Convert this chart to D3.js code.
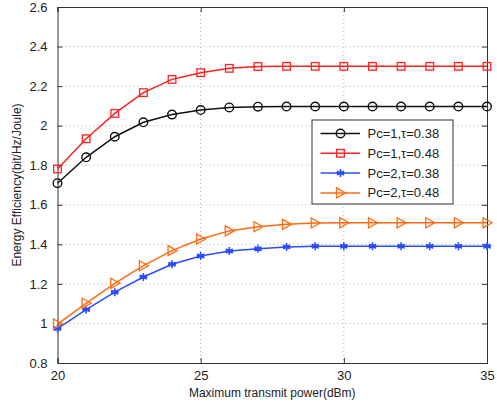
<!DOCTYPE html>
<html>
<head>
<meta charset="utf-8">
<script src="https://cdn.jsdelivr.net/npm/d3@7"></script>
<style>
  html, body { margin: 0; padding: 0; background: #fff; }
  svg { display: block; font-family: "Liberation Sans", Arial, sans-serif; }
</style>
</head>
<body>
<div id="chart"></div>
<script>
// Energy efficiency vs. maximum transmit power

const powerDbm = [20, 21, 22, 23, 24, 25, 26, 27, 28, 29, 30, 31, 32, 33, 34, 35];

const eePc1Tau038 = [1.709, 1.840, 1.944, 2.017, 2.056, 2.079, 2.092, 2.096, 2.097, 2.097, 2.097, 2.097, 2.097, 2.097, 2.097, 2.097];
const eePc1Tau048 = [1.781, 1.934, 2.062, 2.167, 2.234, 2.268, 2.290, 2.299, 2.300, 2.300, 2.300, 2.300, 2.300, 2.300, 2.300, 2.300];
const eePc2Tau038 = [0.974, 1.070, 1.158, 1.235, 1.299, 1.341, 1.366, 1.378, 1.387, 1.390, 1.390, 1.390, 1.390, 1.390, 1.390, 1.390];
const eePc2Tau048 = [0.997, 1.102, 1.203, 1.292, 1.368, 1.427, 1.468, 1.489, 1.501, 1.508, 1.509, 1.509, 1.509, 1.509, 1.509, 1.509];

const seriesNames = ['Pc=1,\u03c4=0.38', 'Pc=1,\u03c4=0.48', 'Pc=2,\u03c4=0.38', 'Pc=2,\u03c4=0.48'];
const seriesColors = ['#111111', '#ff2020', '#2a4dff', '#ff6a10'];
const seriesMarkers = ['circle', 'square', 'star', 'triangle'];

const xTicks = [20, 25, 30, 35];
const yTicks = [0.8, 1.0, 1.2, 1.4, 1.6, 1.8, 2.0, 2.2, 2.4, 2.6];

const W = 497, H = 405;
const margin = { top: 7, right: 10, bottom: 42, left: 57.5 };
const width = W - margin.left - margin.right;
const height = H - margin.top - margin.bottom;

const svg = d3.select('#chart').append('svg')
  .attr('width', W).attr('height', H);

const g = svg.append('g').attr('transform', `translate(${margin.left},${margin.top})`);

const x = d3.scaleLinear().domain([20, 35]).range([0, width]);
const y = d3.scaleLinear().domain([0.8, 2.6]).range([height, 0]);

// Grid (dotted)
g.append('g').selectAll('line').data(xTicks.slice(1, -1)).enter().append('line')
  .attr('x1', d => x(d)).attr('x2', d => x(d))
  .attr('y1', 0).attr('y2', height)
  .attr('stroke', '#999').attr('stroke-width', 0.8).attr('stroke-dasharray', '1,3');
g.append('g').selectAll('line').data(yTicks.slice(1, -1)).enter().append('line')
  .attr('x1', 0).attr('x2', width)
  .attr('y1', d => y(d)).attr('y2', d => y(d))
  .attr('stroke', '#999').attr('stroke-width', 0.8).attr('stroke-dasharray', '1,3');

// Axes with inward ticks (matlab style)
const fmtY = d => (Math.abs(d - Math.round(d)) < 1e-9 ? String(Math.round(d)) : d3.format('.1f')(d));

const axB = g.append('g').attr('transform', `translate(0,${height})`)
  .call(d3.axisBottom(x).tickValues(xTicks).tickSize(-5).tickPadding(8).tickFormat(d3.format('d')));
const axT = g.append('g')
  .call(d3.axisTop(x).tickValues(xTicks).tickSize(-5).tickFormat(''));
const axL = g.append('g')
  .call(d3.axisLeft(y).tickValues(yTicks).tickSize(-5).tickPadding(10).tickFormat(fmtY));
const axR = g.append('g').attr('transform', `translate(${width},0)`)
  .call(d3.axisRight(y).tickValues(yTicks).tickSize(-5).tickFormat(''));

[axB, axT, axL, axR].forEach(a => {
  a.select('.domain').attr('stroke', '#333').attr('stroke-width', 1);
  a.selectAll('.tick line').attr('stroke', '#333');
  a.selectAll('text').attr('font-size', 13).attr('fill', '#222')
    .attr('font-family', '"Liberation Sans", Arial, sans-serif');
});

// Axis titles
svg.append('text')
  .attr('x', margin.left + width / 2).attr('y', 397)
  .attr('text-anchor', 'middle').attr('font-size', 12).attr('fill', '#222')
  .text('Maximum transmit power(dBm)');
svg.append('text')
  .attr('transform', `translate(21,${margin.top + height / 2}) rotate(-90)`)
  .attr('text-anchor', 'middle').attr('font-size', 12).attr('fill', '#222')
  .text('Energy Efficiency(bit/Hz/Joule)');

// Markers
function drawMarker(sel, type, color) {
  if (type === 'circle') {
    sel.append('circle').attr('r', 4.3)
      .attr('fill', 'none').attr('stroke', color).attr('stroke-width', 1.4);
  } else if (type === 'square') {
    sel.append('rect').attr('x', -3.8).attr('y', -3.8).attr('width', 7.6).attr('height', 7.6)
      .attr('fill', 'none').attr('stroke', color).attr('stroke-width', 1.3);
  } else if (type === 'triangle') {
    sel.append('path').attr('d', 'M-4,-5L5,0L-4,5Z')
      .attr('fill', 'none').attr('stroke', color).attr('stroke-width', 1.3);
  } else if (type === 'star') {
    sel.append('path').attr('d', 'M0,-4V4M-3.5,-2L3.5,2M-3.5,2L3.5,-2M-4,0H4')
      .attr('stroke', color).attr('stroke-width', 1.6);
    sel.append('circle').attr('r', 2).attr('fill', color);
  }
}

const allSeries = [eePc1Tau038, eePc1Tau048, eePc2Tau038, eePc2Tau048];
const line = d3.line().x((d, i) => x(powerDbm[i])).y(d => y(d));

allSeries.forEach((vals, s) => {
  const sg = g.append('g');
  sg.append('path').datum(vals).attr('d', line)
    .attr('fill', 'none').attr('stroke', seriesColors[s]).attr('stroke-width', 1.5);
  vals.forEach((v, i) => {
    const m = sg.append('g').attr('transform', `translate(${x(powerDbm[i])},${y(v)})`);
    drawMarker(m, seriesMarkers[s], seriesColors[s]);
  });
});

// Legend
const lg = svg.append('g').attr('transform', 'translate(312,120)');
lg.append('rect').attr('width', 141).attr('height', 84)
  .attr('fill', '#fff').attr('stroke', '#333').attr('stroke-width', 1);
seriesNames.forEach((name, s) => {
  const ry = 13.5 + s * 19.8;
  lg.append('line').attr('x1', 8.5).attr('x2', 48).attr('y1', ry).attr('y2', ry)
    .attr('stroke', seriesColors[s]).attr('stroke-width', 1.5);
  const m = lg.append('g').attr('transform', `translate(28.5,${ry})`);
  drawMarker(m, seriesMarkers[s], seriesColors[s]);
  lg.append('text').attr('x', 55.5).attr('y', ry + 4.5)
    .attr('font-size', 13).attr('fill', '#222')
    .text(name);
});
</script>
</body>
</html>
